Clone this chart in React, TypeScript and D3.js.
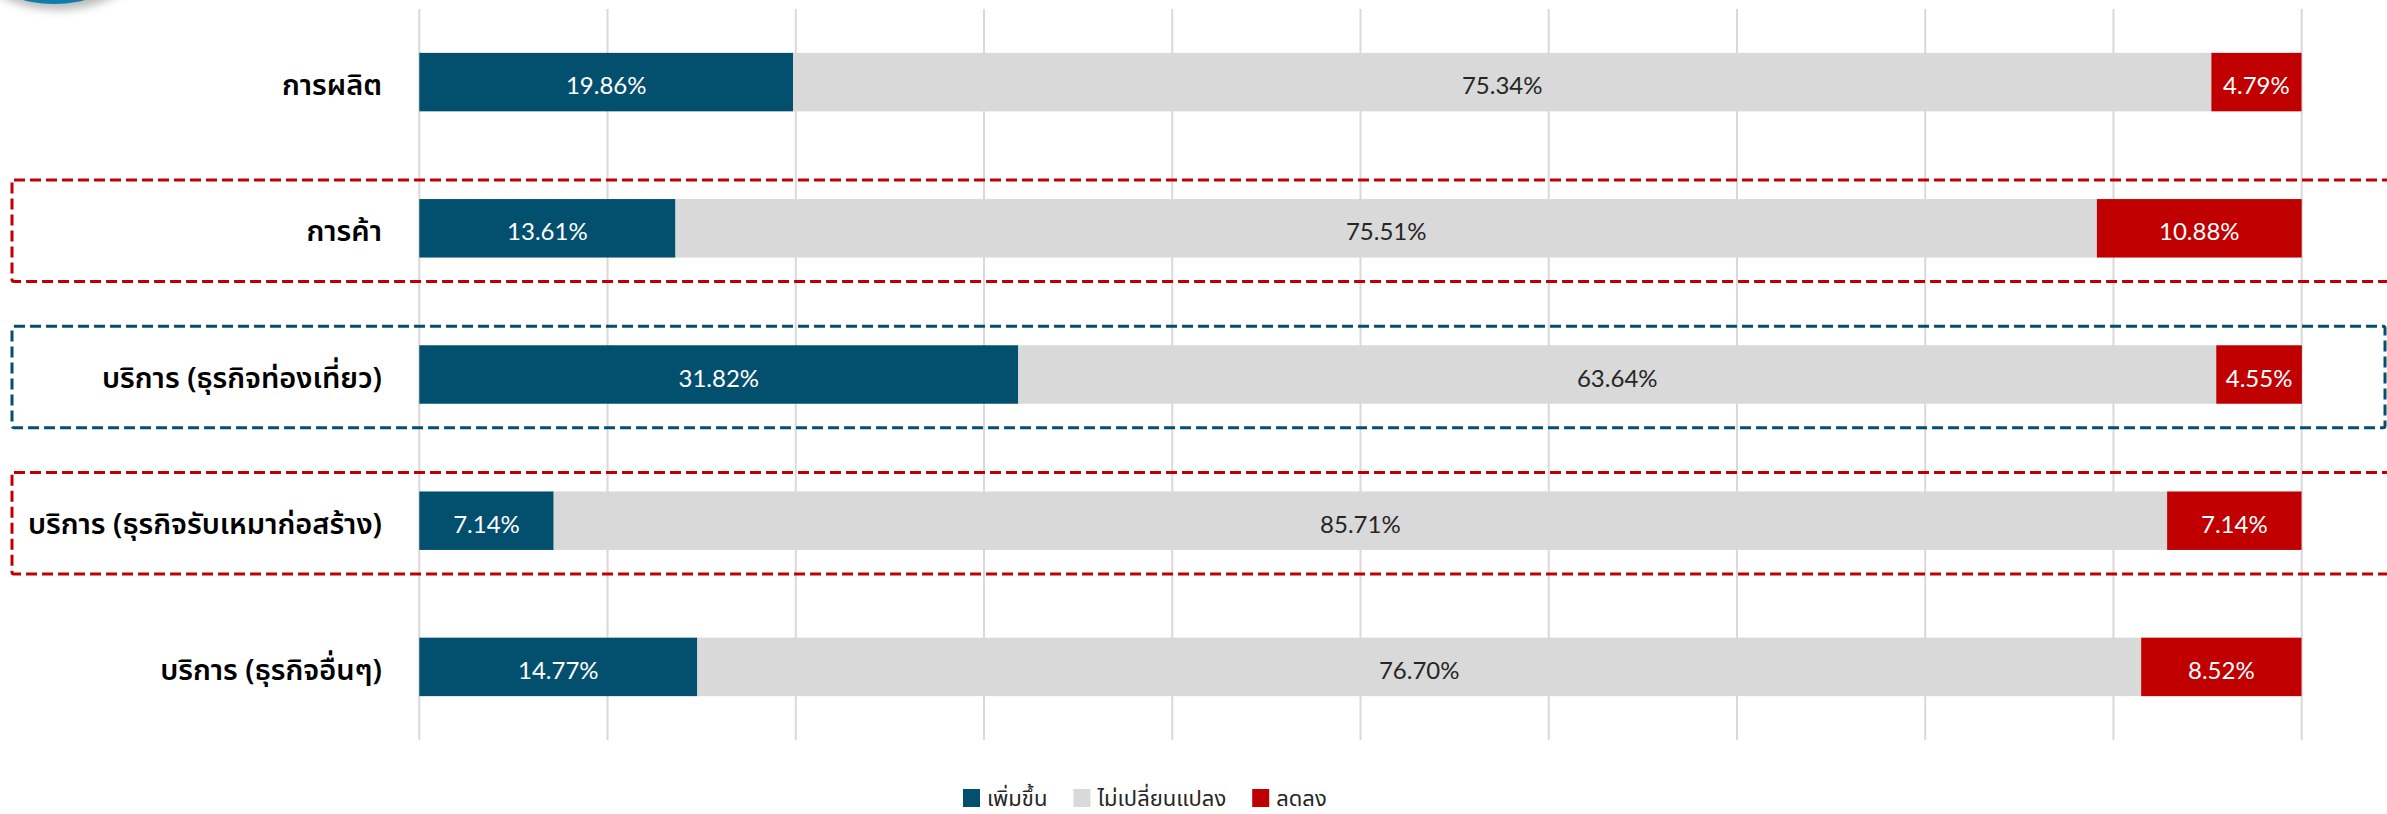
import React, { useEffect, useRef } from 'react';
import * as d3 from 'd3';

// หมวดธุรกิจ (แกน y)
const categories = [
  'การผลิต',
  'การค้า',
  'บริการ (ธุรกิจท่องเที่ยว)',
  'บริการ (ธุรกิจรับเหมาก่อสร้าง)',
  'บริการ (ธุรกิจอื่นๆ)',
];
// ค่าแต่ละซีรีส์ (%)
const increased = [19.86, 13.61, 31.82, 7.14, 14.77];
const unchanged = [75.34, 75.51, 63.64, 85.71, 76.7];
const decreased = [4.79, 10.88, 4.55, 7.14, 8.52];
const seriesNames = ['เพิ่มขึ้น', 'ไม่เปลี่ยนแปลง', 'ลดลง'];
const gridTicks = [0, 10, 20, 30, 40, 50, 60, 70, 80, 90, 100];
// กรอบเส้นประที่เน้นบางหมวด
const highlighted = [
  { cat: 'การค้า', color: '#C00000', open: true },
  { cat: 'บริการ (ธุรกิจท่องเที่ยว)', color: '#034F6D', open: false },
  { cat: 'บริการ (ธุรกิจรับเหมาก่อสร้าง)', color: '#C00000', open: true },
];

const W = 2387;
const H = 814;
const colors = ['#03506E', '#D9D9D9', '#C00000'];
const textColors = ['#FFFFFF', '#262626', '#FFFFFF'];
const thaiFont = 'Tahoma, "Noto Sans Thai", "Noto Sans", sans-serif';

const App = () => {
  const ref = useRef<SVGSVGElement>(null);

  useEffect(() => {
    const svg = d3.select(ref.current);
    svg.selectAll('*').remove();

    const x = d3.scaleLinear().domain([0, 100]).range([419.3, 2301.7]);
    const y = d3
      .scaleBand()
      .domain(categories)
      .range([9, 740])
      .paddingInner(0.6)
      .paddingOuter(0.3);

    // โลโก้วงกลมที่ถูกตัดมุมซ้ายบน
    const defs = svg.append('defs');
    defs
      .append('filter')
      .attr('id', 'shadow')
      .attr('x', '-50%')
      .attr('y', '-50%')
      .attr('width', '200%')
      .attr('height', '200%')
      .append('feGaussianBlur')
      .attr('stdDeviation', 4);
    svg.append('circle').attr('cx', 58).attr('cy', -116).attr('r', 126)
      .attr('fill', '#bbb').attr('filter', 'url(#shadow)');
    svg.append('circle').attr('cx', 54).attr('cy', -118).attr('r', 122).attr('fill', '#0E7DAD');

    // เส้นกริด
    svg
      .append('g')
      .selectAll('line')
      .data(gridTicks)
      .enter()
      .append('line')
      .attr('x1', d => x(d))
      .attr('x2', d => x(d))
      .attr('y1', 9)
      .attr('y2', 740)
      .attr('stroke', '#D9D9D9')
      .attr('stroke-width', 2);

    // แท่งซ้อน
    const rows = categories.map((c, i) => ({ cat: c, vals: [increased[i], unchanged[i], decreased[i]] }));
    const g = svg.append('g');
    rows.forEach(r => {
      let acc = 0;
      r.vals.forEach((v, k) => {
        const x0 = x(acc);
        const x1 = x(acc + v);
        acc += v;
        g.append('rect')
          .attr('x', x0)
          .attr('y', y(r.cat)!)
          .attr('width', x1 - x0)
          .attr('height', y.bandwidth())
          .attr('fill', colors[k]);
        g.append('text')
          .attr('x', (x0 + x1) / 2)
          .attr('y', y(r.cat)! + y.bandwidth() / 2 + 12)
          .attr('text-anchor', 'middle')
          .attr('font-family', 'Lato, "Open Sans", sans-serif')
          .attr('font-size', 24)
          .attr('fill', textColors[k])
          .text(v.toFixed(2) + '%');
      });
    });

    // ป้ายหมวด
    svg
      .append('g')
      .selectAll('text')
      .data(categories)
      .enter()
      .append('text')
      .attr('x', 382)
      .attr('y', d => y(d)! + y.bandwidth() / 2 + 13)
      .attr('text-anchor', 'end')
      .attr('font-family', thaiFont)
      .attr('font-size', 29)
      .attr('font-weight', 600)
      .attr('fill', '#000')
      .text(d => d);

    // กรอบเส้นประ
    highlighted.forEach(h => {
      const cy = y(h.cat)! + y.bandwidth() / 2 + 2.5;
      svg.append('rect')
        .attr('x', 12)
        .attr('y', cy - 50.7)
        .attr('width', (h.open ? 2400 : 2385) - 12)
        .attr('height', 101.4)
        .attr('rx', 2)
        .attr('fill', 'none')
        .attr('stroke', h.color)
        .attr('stroke-width', 3)
        .attr('stroke-dasharray', '11,5');
    });

    // คำอธิบายสัญลักษณ์
    const lg = svg.append('g');
    let lx = 963;
    seriesNames.forEach((n, k) => {
      lg.append('rect').attr('x', lx).attr('y', 789).attr('width', 17).attr('height', 18).attr('fill', colors[k]);
      const t = lg.append('text')
        .attr('x', lx + 24)
        .attr('y', 806)
        .attr('font-family', thaiFont)
        .attr('font-size', 22)
        .attr('fill', '#262626')
        .text(n);
      const w = (t.node() as SVGTextElement).getComputedTextLength();
      lx += 24 + w + 26;
    });
  }, []);

  return (
    <div style={{ position: 'absolute', left: 0, top: 0 }}>
      <svg ref={ref} width={W} height={H} style={{ display: 'block', background: '#fff' }}></svg>
    </div>
  );
};

export default App;
